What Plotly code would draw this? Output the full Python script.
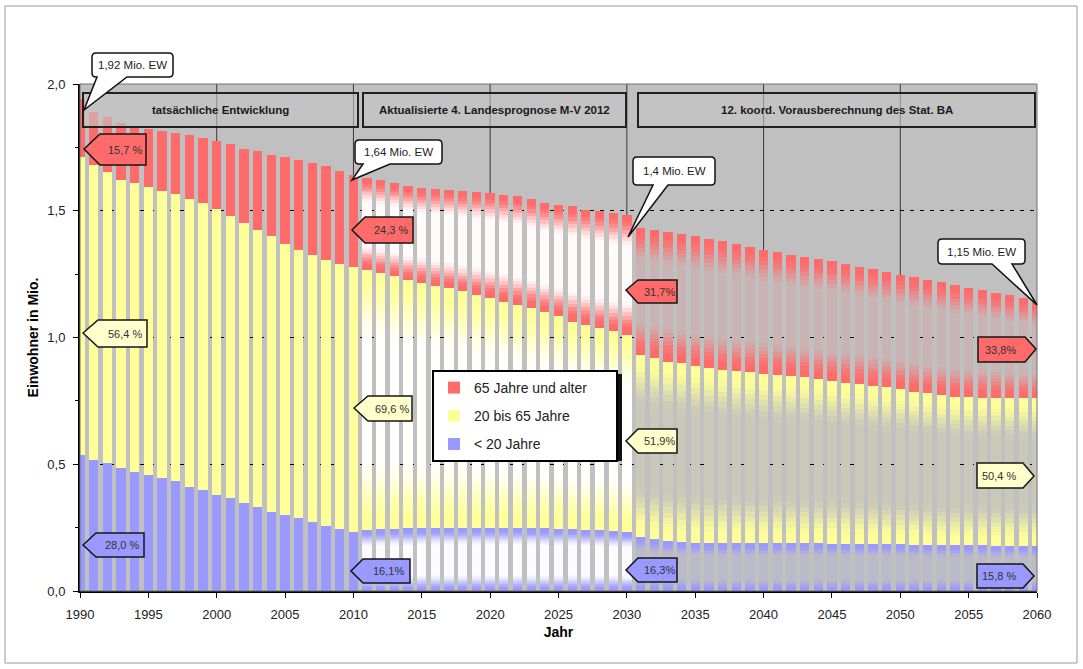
import plotly.graph_objects as go

# ---------------- data (millions of inhabitants) ----------------
years = list(range(1990, 2061))

under20 = [
    0.537, 0.517, 0.504, 0.484, 0.471, 0.458, 0.445, 0.432, 0.412, 0.399,
    0.379, 0.366, 0.346, 0.333, 0.313, 0.300, 0.287, 0.272, 0.258, 0.244,
    0.232, 0.240, 0.243, 0.245, 0.247, 0.248, 0.249, 0.250, 0.250, 0.250,
    0.250, 0.250, 0.249, 0.248, 0.247, 0.246, 0.244, 0.242, 0.240, 0.237,
    0.234, 0.215, 0.205, 0.198, 0.193, 0.190, 0.189, 0.188, 0.188, 0.188,
    0.188, 0.188, 0.188, 0.188, 0.188, 0.187, 0.187, 0.186, 0.186, 0.185,
    0.184, 0.183, 0.182, 0.181, 0.181, 0.180, 0.180, 0.179, 0.179, 0.178,
    0.178,
]
age20_65 = [
    1.178, 1.165, 1.151, 1.139, 1.141, 1.138, 1.135, 1.135, 1.138, 1.132,
    1.128, 1.112, 1.106, 1.092, 1.086, 1.070, 1.059, 1.054, 1.049, 1.047,
    1.048, 1.027, 1.011, 0.996, 0.978, 0.967, 0.955, 0.945, 0.932, 0.919,
    0.906, 0.892, 0.880, 0.868, 0.852, 0.837, 0.819, 0.808, 0.797, 0.787,
    0.777, 0.717, 0.713, 0.707, 0.706, 0.696, 0.690, 0.684, 0.678, 0.674,
    0.669, 0.665, 0.661, 0.656, 0.648, 0.642, 0.635, 0.631, 0.623, 0.618,
    0.612, 0.604, 0.598, 0.593, 0.586, 0.585, 0.583, 0.583, 0.582, 0.582,
    0.582,
]
age65plus = [
    0.225, 0.208, 0.213, 0.222, 0.221, 0.226, 0.235, 0.238, 0.247, 0.257,
    0.268, 0.284, 0.293, 0.309, 0.322, 0.342, 0.355, 0.363, 0.371, 0.367,
    0.362, 0.362, 0.366, 0.369, 0.371, 0.375, 0.382, 0.388, 0.395, 0.404,
    0.414, 0.421, 0.428, 0.430, 0.431, 0.441, 0.454, 0.454, 0.461, 0.467,
    0.473, 0.500, 0.507, 0.513, 0.511, 0.514, 0.511, 0.508, 0.504, 0.496,
    0.489, 0.483, 0.477, 0.472, 0.472, 0.471, 0.468, 0.463, 0.461, 0.456,
    0.452, 0.451, 0.448, 0.444, 0.440, 0.432, 0.424, 0.415, 0.405, 0.395,
    0.382,
]
series_names = ["< 20 Jahre", "20 bis 65 Jahre", "65 Jahre und alter"]

period_labels = ["tatsächliche Entwicklung",
                 "Aktualisierte 4. Landesprognose M-V 2012",
                 "12. koord. Vorausberechnung des Stat. BA"]
period_last_year = [2010, 2030, 2060]

callout_texts = ["1,92 Mio. EW", "1,64 Mio. EW", "1,4 Mio. EW", "1,15 Mio. EW"]
share_texts = ["15,7 %", "56,4 %", "28,0 %", "24,3 %", "69,6 %", "16,1%",
               "31,7%", "51,9%", "16,3%", "33,8%", "50,4 %", "15,8 %"]

# ---------------- styling ----------------
W, H = 1083, 669
L, R, T, B = 80, 1037, 84, 591
FONT = "Liberation Sans, Arial, sans-serif"
BG = (192, 192, 192)
base_cols = [(153, 153, 255), (255, 255, 153), (255, 107, 107)]
tag_cols = {"r": "#ff6b6b", "y": "#ffffcc", "b": "#9999ff"}
legend_rank = [3, 2, 1]


def P(x, y):
    return (x - L) / (R - L), (B - y) / (B - T)


def fmt(x, y):
    a, b = P(x, y)
    return f"{a:.5f},{b:.5f}"


def mix(c, t, w):
    return "rgb(%d,%d,%d)" % tuple(round(c[i] * (1 - w) + t[i] * w) for i in range(3))


def fade(t):
    d = 1 - abs(2 * t - 1)
    w = min(1.0, max(0.0, (d - 0.06) / 0.5))
    return w * w * (3 - 2 * w)


fig = go.Figure()
NS = 32
for vals, col, name, rk in zip([under20, age20_65, age65plus], base_cols, series_names, legend_rank):
    shown = name + ("\u00a0" * 6 if rk == 1 else "")
    for s in range(NS):
        w = fade((s + 0.5) / NS)
        colors = []
        for yr in years:
            if yr <= period_last_year[0]:
                colors.append(mix(col, col, 0))
            elif yr <= period_last_year[1]:
                colors.append(mix(col, (255, 255, 255), 0.97 * w))
            else:
                colors.append(mix(col, BG, 0.85 * w))
        fig.add_trace(go.Bar(
            x=years, y=[v / NS for v in vals], name=shown, legendgroup=name,
            legendrank=rk, showlegend=(s == 0),
            marker=dict(color=colors, line=dict(width=0)), hoverinfo="skip"))

shapes = []
annotations = []

# vertical decade grid lines
for yr in range(2000, 2060, 10):
    shapes.append(dict(type="line", xref="x", yref="paper", x0=yr, x1=yr, y0=0, y1=1,
                       line=dict(color="#3a3a3a", width=1), layer="below"))
# plot frame
shapes.append(dict(type="rect", xref="paper", yref="paper", x0=0, x1=1, y0=0, y1=1,
                   line=dict(color="#707070", width=1)))
# outer frame
x0, y0 = P(5, 6)
x1, y1 = P(1077, 663)
shapes.append(dict(type="rect", xref="paper", yref="paper", x0=x0, x1=x1, y0=y1, y1=y0,
                   line=dict(color="#9a9a9a", width=1)))


def note(px, py, text, size, color="#222", bold=False):
    cx, cy = P(px, py)
    f = dict(family=FONT, size=size, color=color)
    if bold:
        f["weight"] = "bold"
    annotations.append(dict(xref="paper", yref="paper", x=cx, y=cy, text=text, showarrow=False,
                            xanchor="center", yanchor="middle", font=f))


# period header boxes
hdr = [(83, 358), (363, 626), (638, 1035)]
for (a, b), lab in zip(hdr, period_labels):
    xa, ya = P(a, 93)
    xb, yb = P(b, 127)
    shapes.append(dict(type="rect", xref="paper", yref="paper", x0=xa, x1=xb, y0=yb, y1=ya,
                       fillcolor="rgba(196,196,196,0.6)", line=dict(color="#202020", width=2)))
    note((a + b) / 2, 110, lab, 11.5, "#1a1a1a", True)


# callouts
def callout(x0, y0, x1, y1, wa, wb, tip, r=4):
    pts = [("M", [(x0 + r, y0)]), ("L", [(x1 - r, y0)]), ("Q", [(x1, y0), (x1, y0 + r)]),
           ("L", [(x1, y1 - r)]), ("Q", [(x1, y1), (x1 - r, y1)]),
           ("L", [(wb, y1)]), ("L", [tip]), ("L", [(wa, y1)]),
           ("L", [(x0 + r, y1)]), ("Q", [(x0, y1), (x0, y1 - r)]),
           ("L", [(x0, y0 + r)]), ("Q", [(x0, y0), (x0 + r, y0)])]
    return " ".join(c + " " + " ".join(fmt(*p) for p in ps) for c, ps in pts) + " Z"


callouts = [
    ((92, 53, 173, 77), (97, 127), (84, 110)),
    ((355, 140, 442, 164), (363, 390), (352, 180)),
    ((633, 157, 715, 185), (653, 668), (628, 237)),
    ((938, 239, 1025, 264), (992, 1012), (1037, 305)),
]
for (box, (wa, wb), tip), txt in zip(callouts, callout_texts):
    shapes.append(dict(type="path", xref="paper", yref="paper",
                       path=callout(*box, wa, wb, tip), fillcolor="white",
                       line=dict(color="#111111", width=1.5)))
    note((box[0] + box[2]) / 2, (box[1] + box[3]) / 2, txt, 11.5)

# share tags (pentagon arrows)
tags = [
    ("r", "L", (84, 149), 100, 146, 134, 165),
    ("y", "L", (83, 333), 98, 147, 320, 347),
    ("b", "L", (83, 545), 96, 144, 533, 557),
    ("r", "L", (352, 230), 365, 413, 217, 243),
    ("y", "L", (354, 408), 368, 412, 396, 421),
    ("b", "L", (351, 571), 363, 410, 559, 583),
    ("r", "L", (626, 290), 638, 677, 280, 303),
    ("y", "L", (626, 441), 638, 677, 429, 453),
    ("b", "L", (626, 570), 638, 677, 558, 582),
    ("r", "R", (1036, 349), 978, 1025, 337, 362),
    ("y", "R", (1034, 476), 977, 1023, 463, 488),
    ("b", "R", (1034, 576), 977, 1023, 564, 588),
]
for (c, d, tip, xl, xr, yt, yb), txt in zip(tags, share_texts):
    if d == "L":
        pts = [tip, (xl, yt), (xr, yt), (xr, yb), (xl, yb)]
    else:
        pts = [(xl, yt), (xr, yt), tip, (xr, yb), (xl, yb)]
    path = "M " + " L ".join(fmt(*p) for p in pts) + " Z"
    shapes.append(dict(type="path", xref="paper", yref="paper", path=path,
                       fillcolor=tag_cols[c], line=dict(color="#151515", width=1.5)))
    note((xl + xr) / 2 + (2 if d == "L" else -1), (yt + yb) / 2, txt, 11, "#333")

# legend shadow
sx0, sy0 = P(436, 374)
sx1, sy1 = P(622, 461)
shapes.append(dict(type="rect", xref="paper", yref="paper", x0=sx0, x1=sx1, y0=sy1, y1=sy0,
                   fillcolor="#111111", line=dict(width=0)))
lx, ly = P(432, 370)

fig.update_layout(
    width=W, height=H, autosize=False,
    margin=dict(l=L, r=W - R, t=T, b=H - B, pad=0),
    paper_bgcolor="white", plot_bgcolor="rgb(192,192,192)",
    barmode="stack", bargap=0.32,
    separators=",.",
    font=dict(family=FONT, size=13, color="#222"),
    shapes=shapes, annotations=annotations,
    legend=dict(x=lx, y=ly, xanchor="left", yanchor="top", bgcolor="white",
                bordercolor="black", borderwidth=2, font=dict(family=FONT, size=14, color="#222"),
                traceorder="grouped", tracegroupgap=7),
    xaxis=dict(range=[1990, 2060], tick0=1990, dtick=5, showgrid=False, zeroline=False,
               showline=True, linecolor="black", linewidth=2, ticks="outside", ticklen=5,
               tickcolor="black", tickfont=dict(size=13, color="#222"), ticklabelstandoff=5,
               title=dict(text="Jahr", font=dict(size=14, color="black", weight="bold"), standoff=7)),
    yaxis=dict(range=[0, 2], dtick=0.5, tickformat=".1f", showgrid=True, gridcolor="black",
               griddash="4px,6px", gridwidth=1, zeroline=False, showline=True, linecolor="black",
               linewidth=2, ticks="outside", ticklen=5, tickcolor="black",
               minor=dict(dtick=0.25, ticks="outside", ticklen=3, tickcolor="black", showgrid=False),
               tickfont=dict(size=13, color="#222"), ticklabelstandoff=5,
               title=dict(text="Einwohner in Mio.", font=dict(size=14, color="black", weight="bold"),
                          standoff=5)),
)

fig.write_html("out.html")
